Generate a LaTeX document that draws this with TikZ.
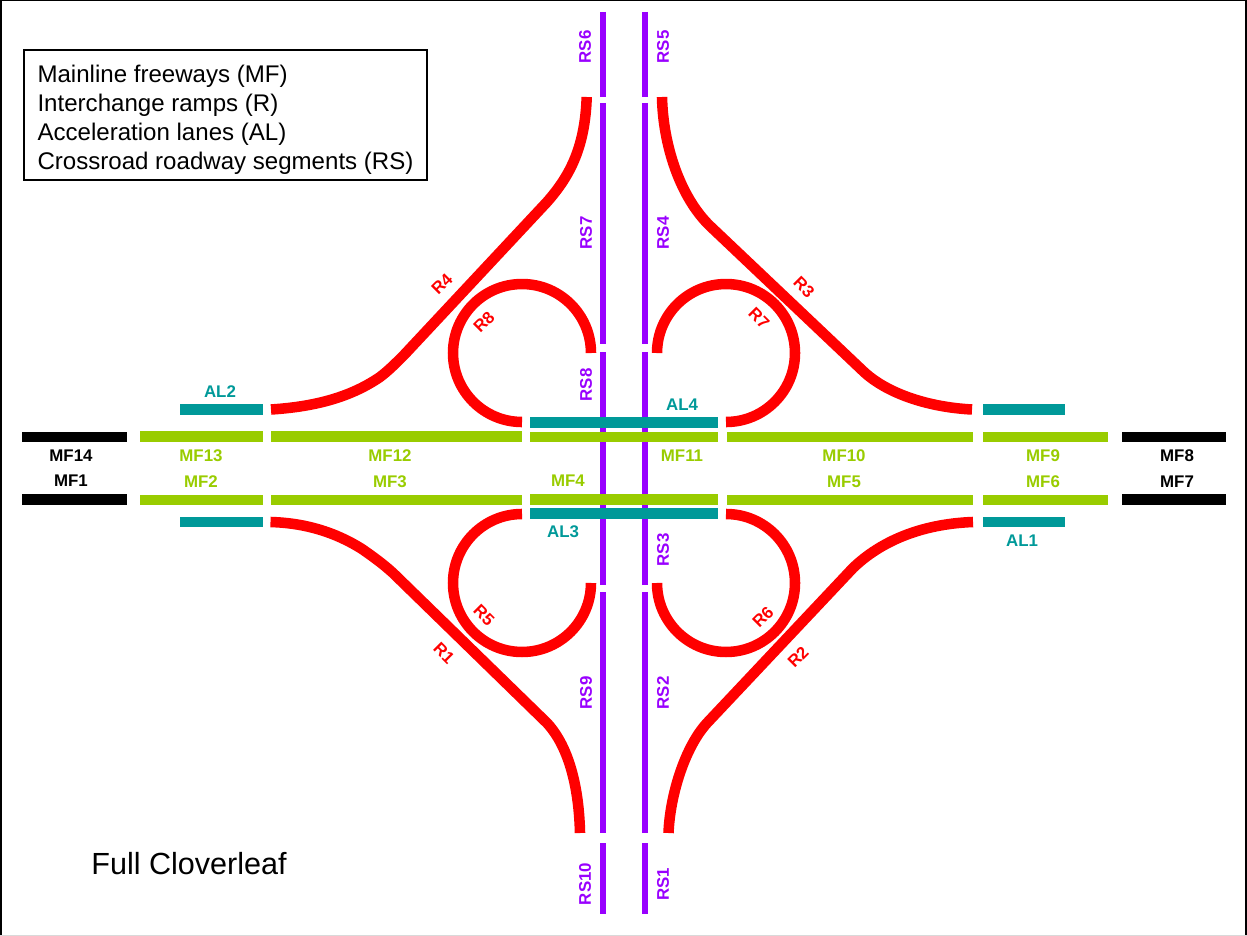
\documentclass[tikz,border=0pt]{standalone}
\usepackage{fontspec}
\setmainfont{Liberation Sans}
\usepackage{tikz}
\usetikzlibrary{positioning}

\definecolor{road green}{HTML}{99CC00}
\definecolor{lane teal}{HTML}{009999}
\definecolor{segment purple}{HTML}{9900FF}

\begin{document}
\begin{tikzpicture}[x=0.02cm,y=-0.02cm,
  road/.style={line width=6.1pt},
  mf black/.style={road,black},
  mf green/.style={road,road green},
  al lane/.style={road,lane teal},
  rs line/.style={line width=3.2pt,segment purple},
  ramp/.style={line width=6pt,red},
  tag/.style={inner sep=0pt,font=\fontsize{9.6}{11}\selectfont\bfseries},
  black tag/.style={tag,black},
  green tag/.style={tag,road green},
  teal tag/.style={tag,lane teal},
  purple tag/.style={tag,segment purple,rotate=90},
  red tag/.style={tag,red}]
    \useasboundingbox (0,0) rectangle (1247,936);
    \draw[line width=1pt] (1,936) -- (1,0.5) -- (1246,0.5) -- (1246,936);
    \draw[line width=0.3pt,black!15] (0,935.5) -- (1247,935.5);

    % crossroad
    \draw[rs line] (603,12) -- (603,97);
    \draw[rs line] (603,103) -- (603,344);
    \draw[rs line] (603,352) -- (603,585);
    \draw[rs line] (603,592) -- (603,833);
    \draw[rs line] (603,843) -- (603,914);
    \draw[rs line] (645,12) -- (645,97);
    \draw[rs line] (645,103) -- (645,344);
    \draw[rs line] (645,352) -- (645,585);
    \draw[rs line] (645,592) -- (645,833);
    \draw[rs line] (645,843) -- (645,914);

    % mainline
    \draw[mf black] (22,437) -- (127,437);
    \draw[mf black] (22,499.5) -- (127,499.5);
    \draw[mf black] (1122,437) -- (1226,437);
    \draw[mf black] (1122,499.5) -- (1226,499.5);
    \draw[mf green] (140,436.5) -- (263,436.5);
    \draw[mf green] (271,436.5) -- (522,436.5);
    \draw[mf green] (530,437) -- (718,437);
    \draw[mf green] (727,437) -- (973,437);
    \draw[mf green] (983,437) -- (1108,437);
    \draw[mf green] (140,500) -- (263,500);
    \draw[mf green] (271,500) -- (522,500);
    \draw[mf green] (530,499.5) -- (718,499.5);
    \draw[mf green] (727,500) -- (973,500);
    \draw[mf green] (983,500) -- (1108,500);

    % acceleration lanes
    \draw[al lane] (180,409.5) -- (263,409.5);
    \draw[al lane] (983,409.5) -- (1065,409.5);
    \draw[al lane] (180,522) -- (263,522);
    \draw[al lane] (983,522) -- (1065,522);
    \draw[al lane] (530,422.5) -- (718,422.5);
    \draw[al lane] (530,513.5) -- (718,513.5);

    % outer ramps
    \draw[ramp] (271,409.5) .. controls (310,407) and (348,399) .. (380,377)
      .. controls (388,371) and (395,364) .. (404,355)
      -- (547,202) .. controls (568,178) and (585,150) .. (586.7,97);
    \draw[ramp] (662,97) .. controls (663,145) and (680,197) .. (710,226)
      -- (863,371) .. controls (885,392) and (925,407) .. (972,409.5);
    \draw[ramp] (270.5,522) .. controls (305,523) and (335,532) .. (362,549)
      .. controls (372,556) and (382,563) .. (393,573)
      -- (547,723) .. controls (570,748) and (579,790) .. (580,833);
    \draw[ramp] (668.5,833) .. controls (670,795) and (685,747) .. (707,723)
      -- (853,568) .. controls (880,542) and (920,524) .. (973,522);

    % loop ramps
    \draw[ramp] (522,422) arc[start angle=270,end angle=0,radius=1.38cm];
    \draw[ramp] (726,422) arc[start angle=270,end angle=540,radius=1.38cm];
    \draw[ramp] (522,514) arc[start angle=90,end angle=360,radius=1.38cm];
    \draw[ramp] (726,514) arc[start angle=90,end angle=-180,radius=1.38cm];

    % mainline labels
    \node[black tag](MF14) at (71,456){MF14};
    \node[black tag,below=0.257cm of MF14](MF1){MF1};
    \node[green tag](MF13) at (201,456){MF13};
    \node[green tag,below=0.257cm of MF13](MF2){MF2};
    \node[green tag](MF12) at (390,456){MF12};
    \node[green tag,below=0.257cm of MF12](MF3){MF3};
    \node[green tag](MF4) at (568,481){MF4};
    \node[green tag](MF11) at (682,456){MF11};
    \node[green tag](MF10) at (844,456){MF10};
    \node[green tag,below=0.257cm of MF10](MF5){MF5};
    \node[green tag](MF9) at (1043,456){MF9};
    \node[green tag,below=0.257cm of MF9](MF6){MF6};
    \node[black tag](MF8) at (1177,456){MF8};
    \node[black tag,below=0.257cm of MF8](MF7){MF7};

    % lane labels
    \node[teal tag](AL1) at (1022,541){AL1};
    \node[teal tag](AL2) at (220,392){AL2};
    \node[teal tag](AL3) at (563,532){AL3};
    \node[teal tag](AL4) at (682,405){AL4};

    % ramp labels
    \node[red tag,rotate=-45](R1) at (444,653){R1};
    \node[red tag,rotate=45](R2) at (798,657){R2};
    \node[red tag,rotate=-45](R3) at (804,287){R3};
    \node[red tag,rotate=45](R4) at (442,284){R4};
    \node[red tag,rotate=-45](R5) at (484,615){R5};
    \node[red tag,rotate=45](R6) at (763,617){R6};
    \node[red tag,rotate=-45](R7) at (759,318){R7};
    \node[red tag,rotate=45](R8) at (484,322){R8};

    % segment labels
    \node[purple tag](RS1) at (663,884.5){RS1};
    \node[purple tag](RS2) at (663,693){RS2};
    \node[purple tag](RS3) at (663,550){RS3};
    \node[purple tag](RS4) at (663,233){RS4};
    \node[purple tag](RS5) at (663,47){RS5};
    \node[purple tag](RS6) at (585,47){RS6};
    \node[purple tag](RS7) at (586,233){RS7};
    \node[purple tag](RS8) at (586,385){RS8};
    \node[purple tag](RS9) at (586,693){RS9};
    \node[purple tag](RS10) at (585,884){RS10};

    \node[draw,line width=0.8pt,minimum height=2.6cm,inner xsep=0.27cm,
      inner ysep=0pt,align=left,font=\fontsize{13.7}{16.4}\selectfont](legend) at (225.5,115)
      {\rule{0pt}{15.5pt}Mainline freeways (MF)\\Interchange ramps (R)\\Acceleration lanes (AL)\\Crossroad roadway segments (RS)};
    \node[anchor=west,inner sep=0pt,font=\fontsize{17.4}{20}\selectfont](title) at (91,864){Full Cloverleaf};
\end{tikzpicture}
\end{document}
